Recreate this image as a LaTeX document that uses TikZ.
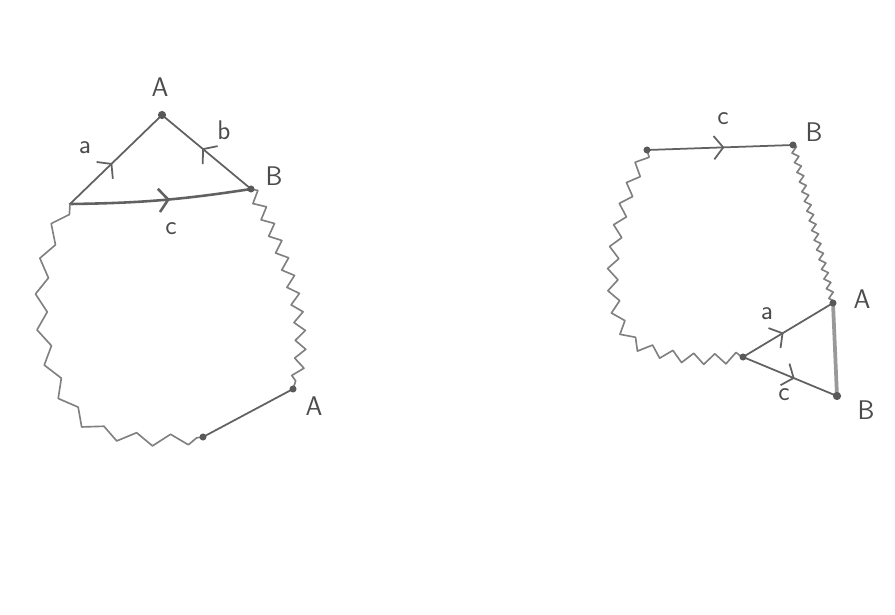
\documentclass[tikz,border=0pt]{standalone}
\usepackage{xcolor}
\usetikzlibrary{arrows.meta, decorations.pathmorphing, decorations.markings}

\begin{document}
\begin{tikzpicture}[
    x=0.03cm, y=-0.03cm,
    pencil/.style={draw=black!62, line width=1.5pt, line cap=round},
    heavy/.style={draw=black!40, line width=3.2pt, line cap=round},
    wiggle/.style 2 args={draw=black!50, line width=1.4pt, line join=round, decorate,
        decoration={zigzag, segment length=#1, amplitude=#2}},
    midarrow/.style={postaction={decorate}, decoration={markings,
        mark=at position #1 with {\arrow{Straight Barb[length=2.8mm, width=7mm]}}}},
    dot/.style={fill=black!65},
    lbl/.style={font=\fontsize{23}{27}\selectfont\sffamily, text=black!70},
]
\useasboundingbox (0,0) rectangle (895,614);

% Left picture: triangle on top of a long loop
\coordinate (lv) at (70,204);
\coordinate (lA) at (162,115);
\coordinate (lB) at (251,189);
\coordinate (lend) at (203,437);
\coordinate (lA2) at (293,389);

\draw[pencil, midarrow=0.46] (lv) -- (lA);
\draw[pencil, midarrow=0.55] (lB) -- (lA);
\draw[pencil, line width=2.2pt, midarrow=0.55] (lv) to[bend right=4] (lB);
\draw[pencil] (lend) -- (lA2);

\draw[wiggle={1.05cm}{5pt}] (lv) .. controls (20,270) and (40,400) .. (95,428)
    .. controls (140,445) and (180,440) .. (lend);
\draw[wiggle={0.55cm}{4.5pt}] (lB) .. controls (285,250) and (315,330) .. (lA2);

\fill[dot] (lA) circle (3.5pt);
\fill[dot] (lB) circle (3pt);
\fill[dot] (lend) circle (3pt);
\fill[dot] (lA2) circle (3pt);

\node[lbl] (tA) at (160,87) {A};
\node[lbl] (ta) at (85,148) {a};
\node[lbl] (tb) at (224,130) {b};
\node[lbl] (tB) at (274,176) {B};
\node[lbl] (tc) at (171,229) {c};
\node[lbl] (tA2) at (314,406) {A};

% Right picture: loop with the triangle at its end
\coordinate (rl) at (647,150);
\coordinate (rB) at (793,145);
\coordinate (rA) at (833,303);
\coordinate (rB2) at (837,396);
\coordinate (rv) at (743,357);

\draw[pencil, midarrow=0.53] (rl) -- (rB);
\draw[pencil, midarrow=0.45] (rv) -- (rA);
\draw[pencil, midarrow=0.55] (rv) -- (rB2);
\draw[heavy] (rA) -- (rB2);

\draw[wiggle={0.65cm}{4.5pt}] (rl) .. controls (600,240) and (605,330) .. (640,346)
    .. controls (680,362) and (715,360) .. (rv);
\draw[wiggle={0.3cm}{2.5pt}] (rB) -- (rA);

\fill[dot] (rl) circle (3pt);
\fill[dot] (rB) circle (3pt);
\fill[dot] (rA) circle (3pt);
\fill[dot] (rB2) circle (3.5pt);
\fill[dot] (rv) circle (3pt);

\node[lbl] (uc) at (723,119) {c};
\node[lbl] (uB) at (814,132) {B};
\node[lbl] (uA) at (862,299) {A};
\node[lbl] (ua) at (767,314) {a};
\node[lbl] (uc2) at (784,395) {c};
\node[lbl] (uB2) at (866,410) {B};

\end{tikzpicture}
\end{document}
